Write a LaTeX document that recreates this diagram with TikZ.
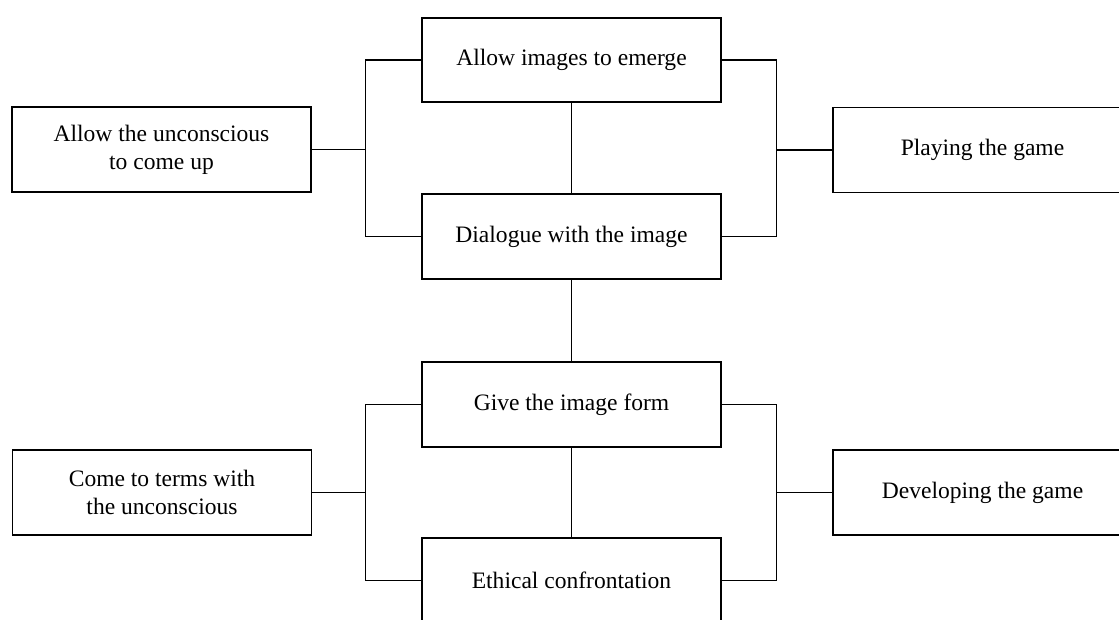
\documentclass[tikz,border=0pt]{standalone}
\usepackage{fontspec}
\setmainfont{Liberation Serif}
\begin{document}
\begin{tikzpicture}[x=0.02cm,y=-0.02cm,font=\fontsize{13.4}{15.8}\selectfont,
  box/.style={draw,line width=0.85pt,align=center,minimum width=5.98cm,minimum height=1.7cm,inner sep=2pt},
  link/.style={line width=0.85pt}]
\useasboundingbox (0,0) rectangle (1119,619);
\clip (0,0) rectangle (1119,619);
\node[box,minimum height=1.68cm] (emerge) at (571.5,60)    {Allow images to emerge};
\node[box]   (dialogue)   at (571.5,236.5)  {Dialogue with the image};
\node[box]   (form)       at (571.5,404.5)  {Give the image form};
\node[box]   (ethical)    at (571.5,580.5)  {Ethical confrontation};
\node[box]   (uncon)      at (161.5,149.5)  {Allow the unconscious\\to come up};
\node[box]   (playing)    at (982.5,150)    {Playing the game};
\node[box]   (terms)      at (162,492.5)    {Come to terms with\\the unconscious};
\node[box]   (developing) at (982.5,492.5)  {Developing the game};
\draw[link] (emerge)--(dialogue); \draw[link] (dialogue)--(form); \draw[link] (form)--(ethical);
\draw[link] (emerge.west) -- ++(-56,0) coordinate (lt) |- (dialogue.west); \draw[link] (uncon.east) -- (uncon.east -| lt);
\draw[link] (emerge.east) -- ++(55,0) coordinate (rt) |- (dialogue.east); \draw[link] (playing.west) -- (playing.west -| rt);
\draw[link] (form.west) -- ++(-56,0) coordinate (lb) |- (ethical.west); \draw[link] (terms.east) -- (terms.east -| lb);
\draw[link] (form.east) -- ++(55,0) coordinate (rb) |- (ethical.east); \draw[link] (developing.west) -- (developing.west -| rb);
\end{tikzpicture}
\end{document}
